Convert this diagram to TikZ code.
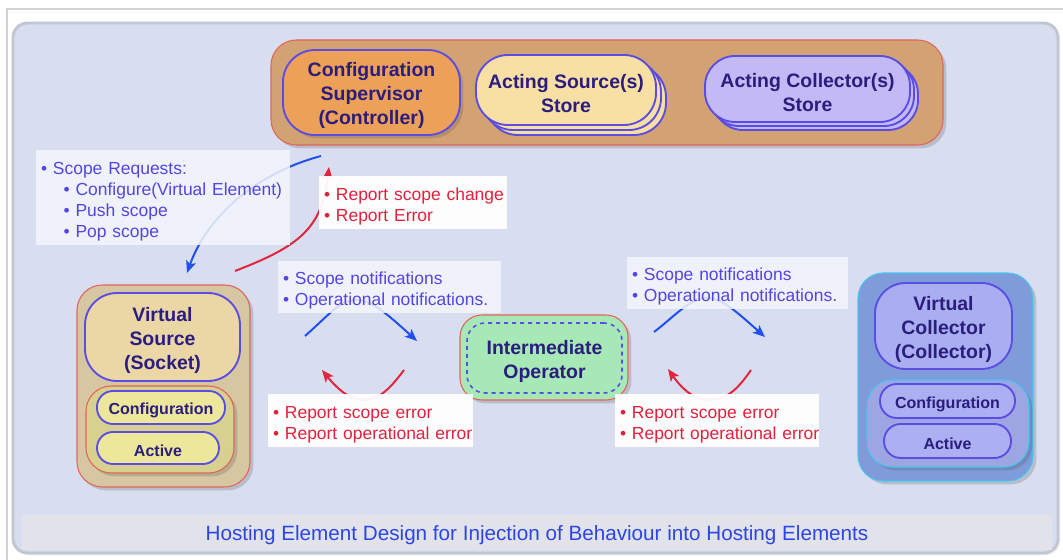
\documentclass[tikz,border=0pt]{standalone}
\usepackage{fontspec}
\setmainfont{Liberation Sans}
\usetikzlibrary{arrows.meta,shadows}

\definecolor{framegray}{HTML}{D2D2D2}
\definecolor{panelfill}{HTML}{D8DEEF}
\definecolor{panelline}{HTML}{C2C6D2}
\definecolor{strip}{HTML}{E2E2EA}
\definecolor{captionblue}{HTML}{2C46E6}
\definecolor{tanfill}{HTML}{D3A273}
\definecolor{tanline}{HTML}{E2645A}
\definecolor{orangefill}{HTML}{EDA057}
\definecolor{edgeblue}{HTML}{5B4DE4}
\definecolor{navy}{HTML}{2B1D7E}
\definecolor{storeyellow}{HTML}{F8DFA3}
\definecolor{storelav}{HTML}{C3B9F4}
\definecolor{notetext}{HTML}{5246E2}
\definecolor{errtext}{HTML}{E2213D}
\definecolor{arrowblue}{HTML}{2050F0}
\definecolor{arrowred}{HTML}{E0263E}
\definecolor{opgreen}{HTML}{A6E8B6}
\definecolor{srcouter}{HTML}{D6C6A2}
\definecolor{srctop}{HTML}{EBD6A6}
\definecolor{srcgroup}{HTML}{D8D08F}
\definecolor{srcpill}{HTML}{EDE79B}
\definecolor{colouter}{HTML}{7F9BDA}
\definecolor{coledge}{HTML}{45C6F2}
\definecolor{coltop}{HTML}{A9AEF0}
\definecolor{colgroup}{HTML}{9DA6E3}
\definecolor{colpill}{HTML}{ACAFF1}
\definecolor{notefill}{HTML}{F4F6FC}

% a text line that never breaks
\newcommand\keepline[1]{\mbox{#1}}
% extra head room above the first line of a bold label
\newcommand\headroom{\rule{0pt}{15.2pt}}

\tikzset{
  softshadow/.style={drop shadow={shadow xshift=2.5pt,shadow yshift=-2.5pt,opacity=0.22,fill=black!70}},
  box/.style={draw=edgeblue, line width=1.4pt, align=center, text=navy,
    font=\bfseries\fontsize{14.6}{18}\selectfont, inner sep=0pt},
  pill/.style={box, font=\bfseries\fontsize{12}{14}\selectfont,
    execute at begin node={\rule{0pt}{13.2pt}}},
  holder/.style={line width=0.8pt, inner sep=0pt},
  note/.style={fill=notefill, fill opacity=0.85, text opacity=1, text=notetext,
    align=left, font=\fontsize{13.1}{15.75}\selectfont, inner xsep=3.75pt, inner ysep=0pt,
    execute at begin node={\rule{0pt}{15pt}}},
  err/.style={note, fill=white, fill opacity=0.95, text=errtext},
  flow/.style={line width=1.5pt, -{Stealth[length=9pt,width=7.5pt,inset=2pt]}},
}

\begin{document}
\begin{tikzpicture}[x=0.75pt,y=-0.75pt]
\useasboundingbox (0,0) rectangle (1063,560);
\fill[white] (0,0) rectangle (1063,560);

% page frame
\draw[framegray, line width=1pt] (7,560) -- (7,9) -- (1063,9);

% main panel and caption strip
\node (panel) [rounded corners=11pt, fill=panelfill, draw=panelline, line width=2.2pt,
  minimum width=783.75pt, minimum height=397.5pt, inner sep=0pt,
  drop shadow={shadow xshift=1.5pt,shadow yshift=-1.5pt,opacity=0.18}] at (535.5,288) {};
\node (strip) [fill=strip, minimum width=772.5pt, minimum height=26.25pt, inner sep=0pt,
  text=captionblue, font=\fontsize{15.5}{18}\selectfont] at (537,532.5)
  {\rule{0pt}{15.5pt}Hosting Element Design for Injection of Behaviour into Hosting Elements};

% controller group
\node (ctl) [holder, rounded corners=19pt, fill=tanfill, draw=tanline, softshadow,
  minimum width=504pt, minimum height=78.75pt] at (607,92.5) {};
\node (sup) [box, rounded corners=24pt, fill=orangefill, softshadow,
  minimum width=132.75pt, minimum height=63.75pt] at (371.5,92.5)
  {\headroom Configuration\\Supervisor\\(Controller)};
\node (srcstore) [box, rounded corners=24pt, fill=storeyellow,
  copy shadow={shadow xshift=7.5pt,shadow yshift=-7.5pt,fill=storeyellow,draw=edgeblue,line width=1.4pt},
  copy shadow={shadow xshift=3.75pt,shadow yshift=-3.75pt,fill=storeyellow,draw=edgeblue,line width=1.4pt},
  minimum width=135pt, minimum height=52.5pt] at (566,90)
  {\headroom Acting Source(s)\\Store};
\node (colstore) [box, rounded corners=22.5pt, fill=storelav,
  copy shadow={shadow xshift=6pt,shadow yshift=-6pt,fill=storelav,draw=edgeblue,line width=1.4pt},
  copy shadow={shadow xshift=3pt,shadow yshift=-3pt,fill=storelav,draw=edgeblue,line width=1.4pt},
  minimum width=153.75pt, minimum height=49.5pt] at (807.5,89)
  {\headroom Acting Collector(s)\\Store};

% virtual source
\node (vsrc) [holder, rounded corners=19pt, fill=srcouter, draw=tanline, softshadow,
  minimum width=129.75pt, minimum height=151.5pt] at (163.5,386) {};
\node (vsrctop) [box, rounded corners=24pt, fill=srctop,
  minimum width=116.25pt, minimum height=66pt] at (162.5,337)
  {\headroom Virtual\\Source\\(Socket)};
\node (vsrcgrp) [holder, rounded corners=19pt, fill=srcgroup, draw=tanline, softshadow,
  minimum width=111pt, minimum height=65.25pt] at (160,429.5) {};
\node (vsrccfg) [pill, rounded corners=12pt, fill=srcpill,
  minimum width=96pt, minimum height=24.75pt] at (161,407.5) {Configuration};
\node (vsrcact) [pill, rounded corners=12pt, fill=srcpill,
  minimum width=91.5pt, minimum height=24pt] at (158,448) {Active};

% virtual collector
\node (vcol) [holder, rounded corners=19pt, fill=colouter, draw=coledge, softshadow,
  minimum width=131.25pt, minimum height=156pt] at (945.5,377) {};
\node (vcoltop) [box, rounded corners=23pt, fill=coltop,
  minimum width=102.75pt, minimum height=64.5pt] at (943.5,326)
  {\headroom Virtual\\Collector\\(Collector)};
\node (vcolgrp) [holder, rounded corners=19pt, fill=colgroup, draw=coledge, softshadow,
  minimum width=121.5pt, minimum height=65.25pt] at (948,423.5) {};
\node (vcolcfg) [pill, rounded corners=12.5pt, fill=colpill,
  minimum width=101.25pt, minimum height=25.5pt] at (947.5,401) {Configuration};
\node (vcolact) [pill, rounded corners=12.5pt, fill=colpill,
  minimum width=95.25pt, minimum height=25.5pt] at (947.5,441) {Active};

% intermediate operator
\node (op) [holder, rounded corners=16.5pt, fill=opgreen, draw=tanline, softshadow,
  minimum width=126pt, minimum height=63.75pt] at (544,357.5) {};
\node (opin) [box, rounded corners=13.5pt, dash pattern=on 3pt off 3pt, line width=1.2pt,
  minimum width=116.25pt, minimum height=52.5pt] at (544.5,358)
  {\headroom Intermediate\\Operator};

% connector end points
\coordinate (reqA) at (321,156);
\coordinate (reqB) at (187,273);
\coordinate (repA) at (235,271);
\coordinate (repB) at (329,167);
\coordinate (nlA) at (305,336);
\coordinate (nlB) at (417,341);
\coordinate (elA) at (404,370);
\coordinate (elB) at (322,370);
\coordinate (nrA) at (654,332);
\coordinate (nrB) at (765,337);
\coordinate (erA) at (751,370);
\coordinate (erB) at (668,369);

% connectors
\draw[flow, arrowblue] (reqA) .. controls (250,175) and (205,222) .. (reqB);
\draw[flow, arrowred] (repA) .. controls (300,246) and (322,228) .. (repB);
\draw[flow, arrowblue] (nlA) .. controls (330,314) and (340,300) .. (356,300)
  .. controls (371,300) and (385,312) .. (nlB);
\draw[flow, arrowred] (elA) .. controls (392,386) and (380,400) .. (364,400)
  .. controls (348,400) and (335,386) .. (elB);
\draw[flow, arrowblue] (nrA) .. controls (675,316) and (690,298) .. (707,298)
  .. controls (722,298) and (738,313) .. (nrB);
\draw[flow, arrowred] (erA) .. controls (740,386) and (728,400) .. (710,400)
  .. controls (692,400) and (680,386) .. (erB);

% message labels
\node (reqnote) [note, text width=183pt, minimum height=71.25pt] at (163,197.5)
  {\keepline{• Scope Requests:}\\
   \keepline{\hspace*{17pt}• Configure(Virtual Element)}\\
   \keepline{\hspace*{17pt}• Push scope}\\
   \keepline{\hspace*{17pt}• Pop scope}};
\node (repnote) [err, text width=133.5pt, minimum height=39.75pt] at (413,202.5)
  {\keepline{• Report scope change}\\\keepline{• Report Error}};
\node (notl) [note, text width=159.75pt, minimum height=39pt] at (389.5,287)
  {\keepline{• Scope notifications}\\\keepline{• Operational notifications.}};
\node (notr) [note, text width=158.25pt, minimum height=39pt] at (737.5,283)
  {\keepline{• Scope notifications}\\\keepline{• Operational notifications.}};
\node (errl) [err, text width=146.25pt, minimum height=39.75pt] at (370.5,420.5)
  {\keepline{• Report scope error}\\\keepline{• Report operational error}};
\node (errr) [err, text width=145.5pt, minimum height=39.75pt] at (717,420.5)
  {\keepline{• Report scope error}\\\keepline{• Report operational error}};
\end{tikzpicture}
\end{document}
